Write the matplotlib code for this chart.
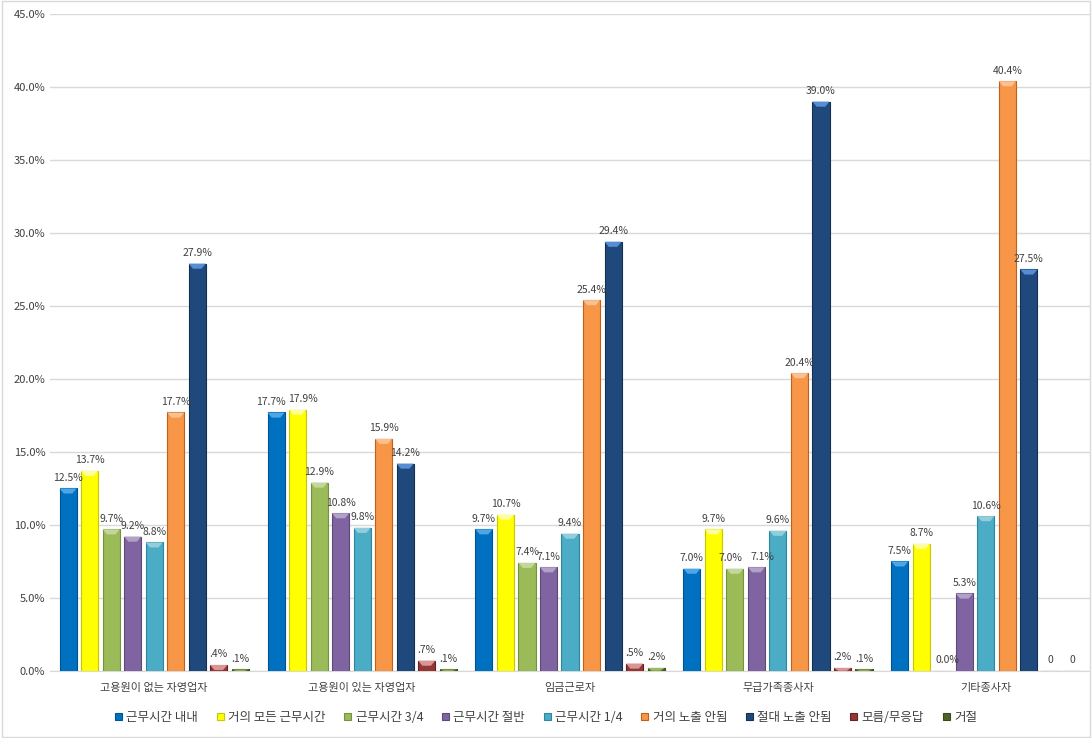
import numpy as np
import matplotlib.pyplot as plt
from matplotlib.patches import Rectangle, Polygon

plt.rcParams['font.family'] = ['Noto Sans CJK KR', 'DejaVu Sans']

# ── data ──────────────────────────────────────────────────────────────────────

groups = ['고용원이 없는 자영업자', '고용원이 있는 자영업자', '임금근로자',
          '무급가족종사자', '기타종사자']

series = ['근무시간 내내', '거의 모든 근무시간', '근무시간 3/4', '근무시간 절반',
          '근무시간 1/4', '거의 노출 안됨', '절대 노출 안됨', '모름/무응답', '거절']

v_always   = [12.5, 17.7, 9.7, 7.0, 7.5]
v_almost   = [13.7, 17.9, 10.7, 9.7, 8.7]
v_3q       = [9.7, 12.9, 7.4, 7.0, 0.0]
v_half     = [9.2, 10.8, 7.1, 7.1, 5.3]
v_1q       = [8.8, 9.8, 9.4, 9.6, 10.6]
v_rarely   = [17.7, 15.9, 25.4, 20.4, 40.4]
v_never    = [27.9, 14.2, 29.4, 39.0, 27.5]
v_unknown  = [0.4, 0.7, 0.5, 0.2, 0.0]
v_refused  = [0.1, 0.1, 0.2, 0.1, 0.0]

values = [v_always, v_almost, v_3q, v_half, v_1q, v_rarely, v_never,
          v_unknown, v_refused]

# data labels as printed on the chart
lab_unknown = ['.4%', '.7%', '.5%', '.2%', '0']
lab_refused = ['.1%', '.1%', '.2%', '.1%', '0']

colors = ['#0070C0', '#FFFF00', '#9BBB59', '#8064A2', '#4BACC6',
          '#F79646', '#1F497D', '#953735', '#4F6228']
edges  = ['#005590', '#C8C800', '#76923C', '#5F497A', '#31859C',
          '#C0601A', '#13304F', '#632423', '#3A4A1D']
caps   = ['#4DA6E8', '#FFFF99', '#C3D69B', '#B2A1C7', '#92CDDC',
          '#FAC090', '#558ED5', '#D99694', '#9BBB59']

# label nudges (points) where Excel pushed crowded labels apart
nudge = {(0, 1): -4, (1, 1): 4, (2, 4): 3, (3, 3): 4, (2, 3): -3}

# ── plot ──────────────────────────────────────────────────────────────────────

fig = plt.figure(figsize=(10.92, 7.38), dpi=100)
ax = fig.add_axes([0.046, 0.091, 0.952, 0.890])

n = len(series)
step = 0.1035
width = 0.082
x = np.arange(len(groups))

for i, (vals, col, ec, cap) in enumerate(zip(values, colors, edges, caps)):
    xs = x + (i - (n - 1) / 2) * step
    ax.bar(xs, vals, width, color=col, edgecolor=ec, linewidth=0.8,
           zorder=3, label=series[i])
    for g, (xi, v) in enumerate(zip(xs, vals)):
        # small bevel cap on top of each bar
        if v > 0:
            h = min(0.35, v)
            ax.add_patch(Polygon([[xi - width / 2, v], [xi + width / 2, v],
                                  [xi + width / 4, v - h], [xi - width / 4, v - h]],
                                 closed=True, facecolor=cap, edgecolor='none',
                                 zorder=4))
        if i == 7:
            txt = lab_unknown[g]
        elif i == 8:
            txt = lab_refused[g]
        else:
            txt = f'{v:.1f}%'
        ax.annotate(txt, (xi, v), xytext=(nudge.get((i, g), 0), 4),
                    textcoords='offset points', ha='center', va='bottom',
                    fontsize=7.5, color='#404040', zorder=5)

ax.set_xlim(-0.5, len(groups) - 0.5)
ax.set_ylim(0, 45)
ax.set_yticks(np.arange(0, 46, 5))
ax.set_yticklabels([f'{t:.1f}%' for t in np.arange(0, 46, 5)])
ax.set_xticks(x)
ax.set_xticklabels(groups)
ax.tick_params(axis='both', length=0, labelsize=8, colors='#404040')
ax.tick_params(axis='x', pad=9)
ax.yaxis.grid(True, color='#D9D9D9', linewidth=1, zorder=0)
ax.set_axisbelow(True)
for s in ['top', 'right', 'left']:
    ax.spines[s].set_visible(False)
ax.spines['bottom'].set_color('#D9D9D9')

fig.legend(*ax.get_legend_handles_labels(), loc='center',
           bbox_to_anchor=(0.5, 0.028), ncol=n,
           frameon=False, fontsize=9, handlelength=0.55, handleheight=0.55,
           handletextpad=0.35, columnspacing=1.5, labelcolor='#404040')

fig.patches.append(Rectangle((0.002, 0.002), 0.996, 0.996, transform=fig.transFigure,
                             fill=False, edgecolor='#D9D9D9', linewidth=1))

plt.savefig('out.png', dpi=100)
